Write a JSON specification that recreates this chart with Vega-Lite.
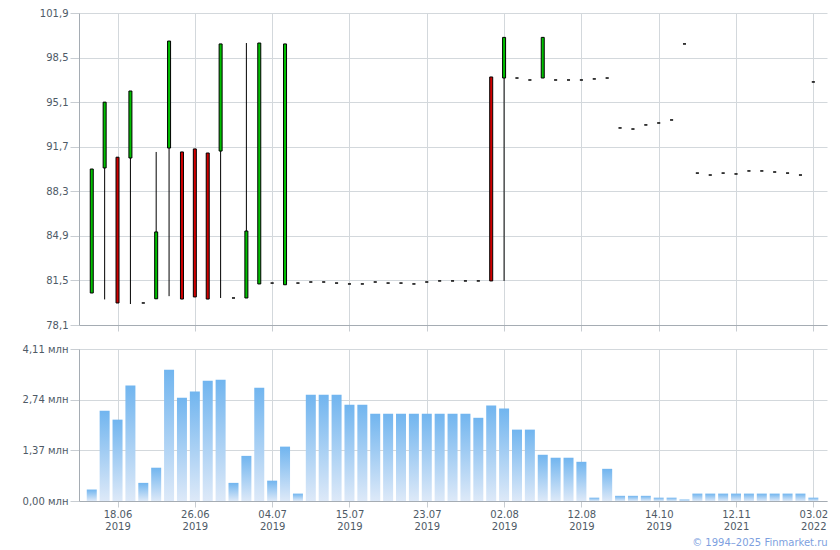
{
  "$schema": "https://vega.github.io/schema/vega-lite/v6.json",
  "padding": {"left": 22, "top": 8, "right": 10, "bottom": 5},
  "background": "white",
  "title": {"text": "© 1994–2025 Finmarket.ru", "orient": "bottom", "anchor": "end", "fontSize": 10, "fontWeight": "normal", "color": "#7d9fe0", "font": "DejaVu Sans", "offset": 7},
  "data": {"values": [
    {"i": 0, "o": 80.54, "h": 90.0, "l": 80.54, "c": 90.0, "v": 0.31},
    {"i": 1, "o": 90.08, "h": 95.1, "l": 80.05, "c": 95.1, "v": 2.44},
    {"i": 2, "o": 90.9, "h": 90.9, "l": 79.78, "c": 79.78, "v": 2.2},
    {"i": 3, "o": 90.84, "h": 95.95, "l": 79.7, "c": 95.95, "v": 3.12},
    {"i": 4, "o": 79.78, "h": 79.78, "l": 79.78, "c": 79.78, "v": 0.49},
    {"i": 5, "o": 80.1, "h": 91.3, "l": 80.1, "c": 85.2, "v": 0.9},
    {"i": 6, "o": 91.6, "h": 99.76, "l": 80.3, "c": 99.76, "v": 3.55},
    {"i": 7, "o": 91.3, "h": 91.3, "l": 80.08, "c": 80.08, "v": 2.79},
    {"i": 8, "o": 91.53, "h": 91.53, "l": 80.24, "c": 80.24, "v": 2.96},
    {"i": 9, "o": 91.22, "h": 91.22, "l": 80.08, "c": 80.08, "v": 3.25},
    {"i": 10, "o": 91.37, "h": 99.54, "l": 80.16, "c": 99.54, "v": 3.28},
    {"i": 11, "o": 80.16, "h": 80.16, "l": 80.16, "c": 80.16, "v": 0.49},
    {"i": 12, "o": 80.16, "h": 99.61, "l": 80.16, "c": 85.27, "v": 1.22},
    {"i": 13, "o": 81.23, "h": 99.61, "l": 81.23, "c": 99.61, "v": 3.06},
    {"i": 14, "o": 81.3, "h": 81.3, "l": 81.3, "c": 81.3, "v": 0.55},
    {"i": 15, "o": 81.17, "h": 99.54, "l": 81.17, "c": 99.54, "v": 1.47},
    {"i": 16, "o": 81.3, "h": 81.3, "l": 81.3, "c": 81.3, "v": 0.2},
    {"i": 17, "o": 81.38, "h": 81.38, "l": 81.38, "c": 81.38, "v": 2.87},
    {"i": 18, "o": 81.38, "h": 81.38, "l": 81.38, "c": 81.38, "v": 2.87},
    {"i": 19, "o": 81.3, "h": 81.3, "l": 81.3, "c": 81.3, "v": 2.87},
    {"i": 20, "o": 81.23, "h": 81.23, "l": 81.23, "c": 81.23, "v": 2.6},
    {"i": 21, "o": 81.23, "h": 81.23, "l": 81.23, "c": 81.23, "v": 2.6},
    {"i": 22, "o": 81.38, "h": 81.38, "l": 81.38, "c": 81.38, "v": 2.36},
    {"i": 23, "o": 81.3, "h": 81.3, "l": 81.3, "c": 81.3, "v": 2.36},
    {"i": 24, "o": 81.3, "h": 81.3, "l": 81.3, "c": 81.3, "v": 2.36},
    {"i": 25, "o": 81.23, "h": 81.23, "l": 81.23, "c": 81.23, "v": 2.36},
    {"i": 26, "o": 81.38, "h": 81.38, "l": 81.38, "c": 81.38, "v": 2.36},
    {"i": 27, "o": 81.46, "h": 81.46, "l": 81.46, "c": 81.46, "v": 2.36},
    {"i": 28, "o": 81.46, "h": 81.46, "l": 81.46, "c": 81.46, "v": 2.36},
    {"i": 29, "o": 81.46, "h": 81.46, "l": 81.46, "c": 81.46, "v": 2.36},
    {"i": 30, "o": 81.46, "h": 81.46, "l": 81.46, "c": 81.46, "v": 2.25},
    {"i": 31, "o": 97.02, "h": 97.02, "l": 81.46, "c": 81.46, "v": 2.58},
    {"i": 32, "o": 96.94, "h": 100.04, "l": 81.46, "c": 100.04, "v": 2.5},
    {"i": 33, "o": 96.94, "h": 96.94, "l": 96.94, "c": 96.94, "v": 1.93},
    {"i": 34, "o": 96.79, "h": 96.79, "l": 96.79, "c": 96.79, "v": 1.93},
    {"i": 35, "o": 96.94, "h": 100.04, "l": 96.94, "c": 100.04, "v": 1.25},
    {"i": 36, "o": 96.79, "h": 96.79, "l": 96.79, "c": 96.79, "v": 1.17},
    {"i": 37, "o": 96.79, "h": 96.79, "l": 96.79, "c": 96.79, "v": 1.17},
    {"i": 38, "o": 96.79, "h": 96.79, "l": 96.79, "c": 96.79, "v": 1.06},
    {"i": 39, "o": 96.87, "h": 96.87, "l": 96.87, "c": 96.87, "v": 0.09},
    {"i": 40, "o": 96.94, "h": 96.94, "l": 96.94, "c": 96.94, "v": 0.87},
    {"i": 41, "o": 93.13, "h": 93.13, "l": 93.13, "c": 93.13, "v": 0.14},
    {"i": 42, "o": 93.05, "h": 93.05, "l": 93.05, "c": 93.05, "v": 0.14},
    {"i": 43, "o": 93.36, "h": 93.36, "l": 93.36, "c": 93.36, "v": 0.14},
    {"i": 44, "o": 93.51, "h": 93.51, "l": 93.51, "c": 93.51, "v": 0.09},
    {"i": 45, "o": 93.74, "h": 93.74, "l": 93.74, "c": 93.74, "v": 0.09},
    {"i": 46, "o": 99.54, "h": 99.54, "l": 99.54, "c": 99.54, "v": 0.04},
    {"i": 47, "o": 89.69, "h": 89.69, "l": 89.69, "c": 89.69, "v": 0.2},
    {"i": 48, "o": 89.54, "h": 89.54, "l": 89.54, "c": 89.54, "v": 0.2},
    {"i": 49, "o": 89.69, "h": 89.69, "l": 89.69, "c": 89.69, "v": 0.2},
    {"i": 50, "o": 89.62, "h": 89.62, "l": 89.62, "c": 89.62, "v": 0.2},
    {"i": 51, "o": 89.85, "h": 89.85, "l": 89.85, "c": 89.85, "v": 0.2},
    {"i": 52, "o": 89.85, "h": 89.85, "l": 89.85, "c": 89.85, "v": 0.2},
    {"i": 53, "o": 89.77, "h": 89.77, "l": 89.77, "c": 89.77, "v": 0.2},
    {"i": 54, "o": 89.69, "h": 89.69, "l": 89.69, "c": 89.69, "v": 0.2},
    {"i": 55, "o": 89.54, "h": 89.54, "l": 89.54, "c": 89.54, "v": 0.2},
    {"i": 56, "o": 96.64, "h": 96.64, "l": 96.64, "c": 96.64, "v": 0.09}
  ]},
  "spacing": 12,
  "vconcat": [
    {
      "width": 748,
      "height": 312,
      "encoding": {
        "x": {"field": "i", "type": "quantitative", "scale": {"domain": [-0.99, 57.06], "nice": false, "zero": false, "padding": 0},
              "axis": {"values": [2, 8, 14, 20, 26, 32, 38, 44, 50, 56], "labels": false, "title": null, "tickSize": 6}}
      },
      "layer": [
        {
          "mark": {"type": "rule", "color": "black", "strokeWidth": 1},
          "encoding": {
            "y": {"field": "l", "type": "quantitative", "scale": {"domain": [78.1, 101.9], "nice": false, "zero": false},
                  "axis": {"values": [78.1, 81.5, 84.9, 88.3, 91.7, 95.1, 98.5, 101.9], "title": null,
                           "labelExpr": "replace(format(datum.value, '.1f'), '.', ',')"}},
            "y2": {"field": "h"}
          }
        },
        {
          "mark": {"type": "bar", "width": 3, "stroke": "black", "strokeWidth": 1},
          "encoding": {
            "y": {"field": "o", "type": "quantitative"},
            "y2": {"field": "c"},
            "fill": {"condition": {"test": "datum.c > datum.o", "value": "#00c000"}, "value": "#d00000"}
          }
        }
      ]
    },
    {
      "width": 748,
      "height": 152,
      "mark": {"type": "bar", "width": 10,
               "color": {"gradient": "linear", "x1": 0, "y1": 0, "x2": 0, "y2": 1,
                         "stops": [{"offset": 0, "color": "#71b5ef"}, {"offset": 1, "color": "#dde9f8"}]}},
      "encoding": {
        "x": {"field": "i", "type": "quantitative", "scale": {"domain": [-0.99, 57.06], "nice": false, "zero": false, "padding": 0},
              "axis": {"values": [2, 8, 14, 20, 26, 32, 38, 44, 50, 56], "title": null, "tickSize": 6, "labelPadding": 2,
                       "labelExpr": "[['18.06','2019'],['26.06','2019'],['04.07','2019'],['15.07','2019'],['23.07','2019'],['02.08','2019'],['12.08','2019'],['14.10','2019'],['12.11','2021'],['03.02','2022']][(datum.value - 2) / 6]"}},
        "y": {"field": "v", "type": "quantitative", "scale": {"domain": [0, 4.11], "nice": false},
              "axis": {"values": [0, 1.37, 2.74, 4.11], "title": null,
                       "labelExpr": "replace(format(datum.value, '.2f'), '.', ',') + ' млн'"}}
      }
    }
  ],
  "config": {
    "view": {"stroke": null},
    "font": "DejaVu Sans",
    "axis": {
      "labelFont": "DejaVu Sans",
      "labelFontSize": 10,
      "labelColor": "#4e5a66",
      "gridColor": "#d3d8dc",
      "gridWidth": 1,
      "tickColor": "#c8cdd2",
      "domainColor": "#a5acb3",
      "domainWidth": 1,
      "labelLineHeight": 12
    },
    "axisY": {"tickSize": 9, "labelPadding": 2},
    "axisX": {"labelAngle": 0}
  }
}
